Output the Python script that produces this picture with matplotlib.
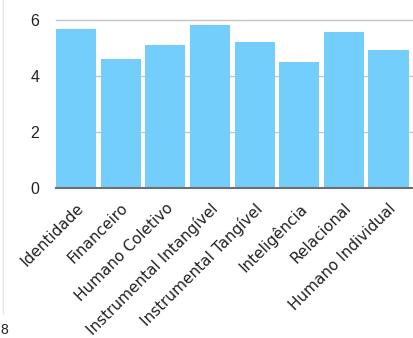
import matplotlib.pyplot as plt
import numpy as np
from matplotlib.lines import Line2D

categories = ["Identidade", "Financeiro", "Humano Coletivo", "Instrumental Intangível",
              "Instrumental Tangível", "Inteligência", "Relacional", "Humano Individual"]
values = [5.68, 4.61, 5.11, 5.82, 5.21, 4.50, 5.57, 4.93]
y_ticks = [0, 2, 4, 6]

fig = plt.figure(figsize=(4.13, 3.38), dpi=100)
ax = fig.add_axes([56 / 413, 1 - 188 / 338, 1 - 56 / 413, (188 - 20) / 338])

x = np.arange(len(categories))
ax.bar(x, values, width=0.9, color="#74CEFB", zorder=2)

ax.set_xlim(-0.45, 7.55)
ax.set_ylim(0, 6)
ax.set_yticks(y_ticks)
ax.set_yticklabels([str(t) for t in y_ticks], fontsize=11.5, family="Liberation Sans", color="#222222")
ax.tick_params(axis="y", length=0, pad=12)
ax.tick_params(axis="x", length=0, pad=9)
ax.set_xticks(x)
ax.set_xticklabels(categories, rotation=45, ha="right", rotation_mode="anchor",
                   fontsize=11, family="DejaVu Sans", color="#222222")
for lbl in ax.get_xticklabels():
    lbl.set_x(lbl.get_position()[0])

for t in y_ticks[1:]:
    ax.axhline(t, color="#C4C4C4", lw=1, zorder=1, clip_on=False)

for s in ["top", "right", "left"]:
    ax.spines[s].set_visible(False)
ax.spines["bottom"].set_color("#6E6E6E")
ax.spines["bottom"].set_linewidth(1.5)
ax.spines["bottom"].set_zorder(3)

# faint panel border at the far left and a small label in the corner
fig.add_artist(Line2D([3 / 413, 3 / 413], [1, 1 - 313 / 338], color="#E4E4E4", lw=1))
fig.text(0.002, 0.004, "8", fontsize=10, family="Liberation Sans", color="#222222",
         ha="left", va="bottom")

fig.savefig("out.png", dpi=100)
